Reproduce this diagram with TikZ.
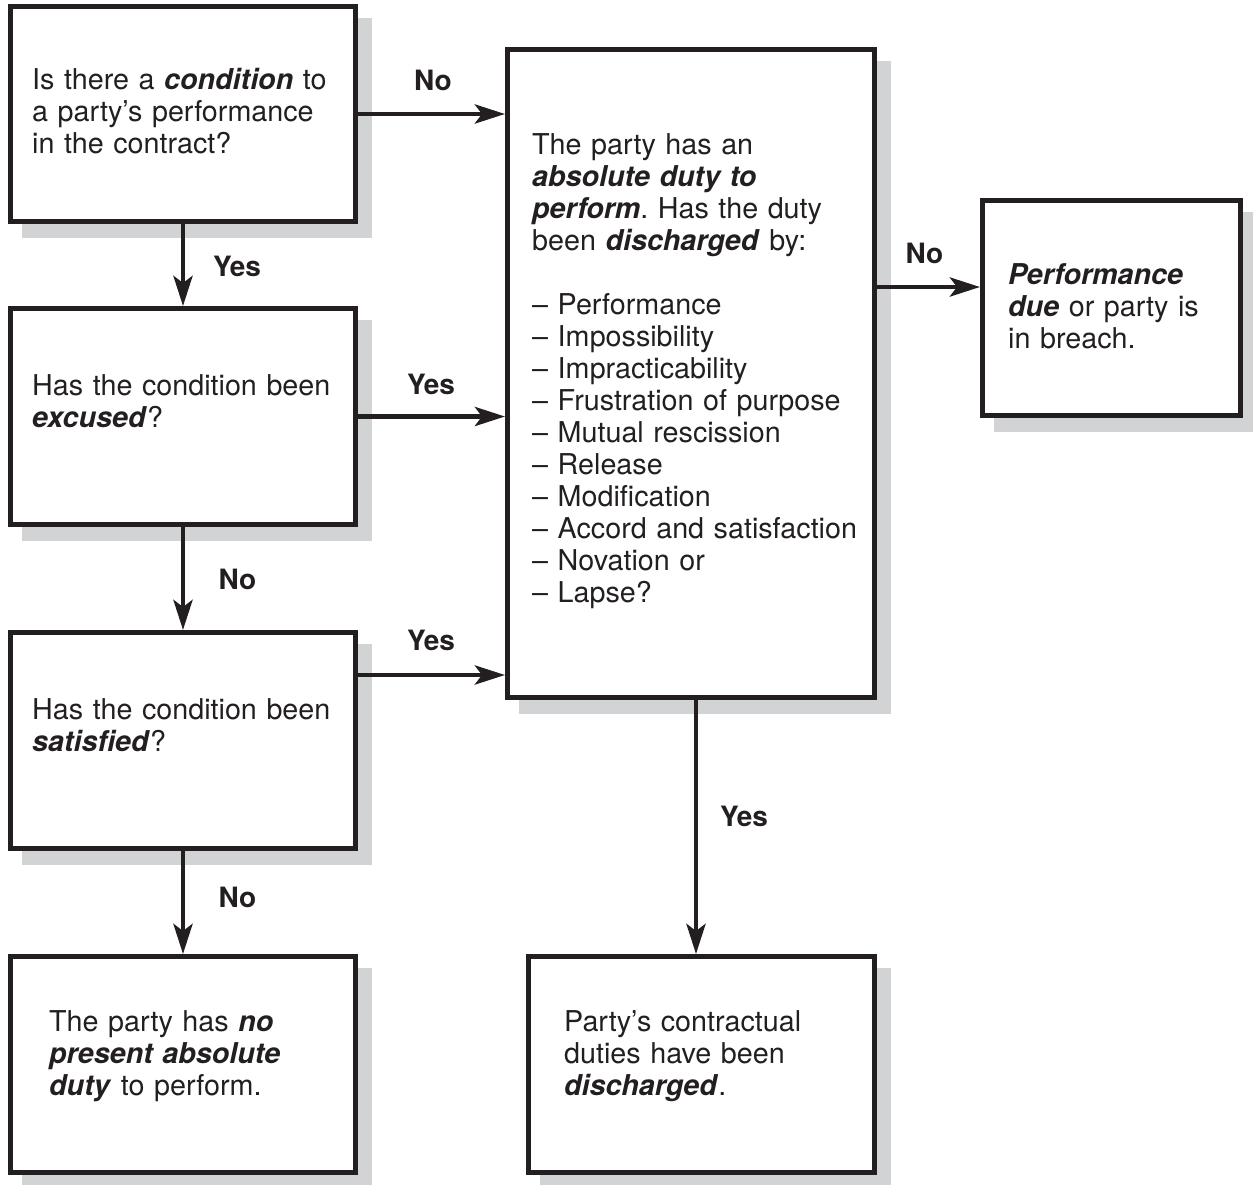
\documentclass[tikz,border=0pt]{standalone}
\usepackage{fontspec}
\setmainfont{TeX Gyre Heros}
\usetikzlibrary{arrows.meta,backgrounds}
\definecolor{ink}{HTML}{231F20}
\definecolor{shadowgray}{HTML}{D1D3D4}
\newcommand{\bi}[1]{\textbf{\textit{#1}}}
\frenchspacing
\begin{document}
\begin{tikzpicture}[x=1pt,y=-1pt,
  box/.style={draw=ink, line width=4.8pt, fill=white, inner sep=0pt},
  txt/.style={anchor=base west, inner sep=0pt, text width=360pt, align=left, text=ink, font=\fontsize{28.7}{32}\selectfont},
  lbl/.style={inner sep=0pt, text=ink, font=\fontsize{28}{32}\selectfont\bfseries},
  arr/.style={draw=ink, line width=4.8pt, -{Stealth[length=30pt,width=19pt,inset=7pt]}}]
\useasboundingbox (0,0) rectangle (1253,1184);
% boxes
\node[box, minimum width=345.2pt, minimum height=215.2pt] (A) at (183,114) {};
\node[box, minimum width=345.2pt, minimum height=216.2pt] (B) at (183,416.5) {};
\node[box, minimum width=345.2pt, minimum height=216.2pt] (C) at (183,740.5) {};
\node[box, minimum width=345.2pt, minimum height=216.2pt] (D) at (183,1064.5) {};
\node[box, minimum width=367.2pt, minimum height=648.2pt] (E) at (691,373.5) {};
\node[box, minimum width=258.2pt, minimum height=215.2pt] (F) at (1111.5,308) {};
\node[box, minimum width=346.2pt, minimum height=216.2pt] (G) at (701.5,1064.5) {};
% shadows
\begin{scope}[on background layer]
\foreach \n in {A,B,C,D,E,F,G}
  \fill[shadowgray] ([shift={(13.5,13.5)}]\n.south west) rectangle ([shift={(13.5,13.5)}]\n.north east);
\end{scope}
% texts
\node[txt] (At) at (32,89) {Is there a \bi{condition} to\\ a party’s performance\\ in the contract?};
\node[txt] (Bt) at (32,395) {Has the condition been\\ \bi{excused}?};
\node[txt] (Ct) at (32,719) {Has the condition been\\ \bi{satisfied}?};
\node[txt] (Dt) at (49,1031) {The party has \bi{no}\\ \bi{present absolute}\\ \bi{duty} to perform.};
\node[txt] (Et) at (532,154) {The party has an\\ \bi{absolute duty to}\\ \bi{perform}. Has the duty\\ been \bi{discharged} by:\\[32pt]
\textendash\ Performance\\
\textendash\ Impossibility\\
\textendash\ Impracticability\\
\textendash\ Frustration of purpose\\
\textendash\ Mutual rescission\\
\textendash\ Release\\
\textendash\ Modification\\
\textendash\ Accord and satisfaction\\
\textendash\ Novation or\\
\textendash\ Lapse?};
\node[txt] (Ft) at (1008,284) {\bi{Performance}\\ \bi{due} or party is\\ in breach.};
\node[txt] (Gt) at (564,1031) {Party’s contractual\\ duties have been\\ \bi{discharged}.};
% connectors
\draw[arr] (A.south) -- (B.north);
\draw[arr] (B.south) -- (C.north);
\draw[arr] (C.south) -- (D.north);
\draw[arr] (A.east) -- (A.east -| E.west);
\draw[arr] (B.east) -- (B.east -| E.west);
\draw[arr] (C.east |- 0,675) -- (E.west |- 0,675);
\draw[arr] (E.east |- 0,287) -- (F.west |- 0,287);
\draw[arr] (E.south -| 696,0) -- (G.north -| 696,0);
% labels
\node[lbl] (l1) at (433,80) {No};
\node[lbl] (l2) at (237,266) {Yes};
\node[lbl] (l3) at (431,384) {Yes};
\node[lbl] (l4) at (237.5,579) {No};
\node[lbl] (l5) at (431,640) {Yes};
\node[lbl] (l6) at (237.5,897) {No};
\node[lbl] (l7) at (924.5,253) {No};
\node[lbl] (l8) at (744,816) {Yes};
\end{tikzpicture}
\end{document}
